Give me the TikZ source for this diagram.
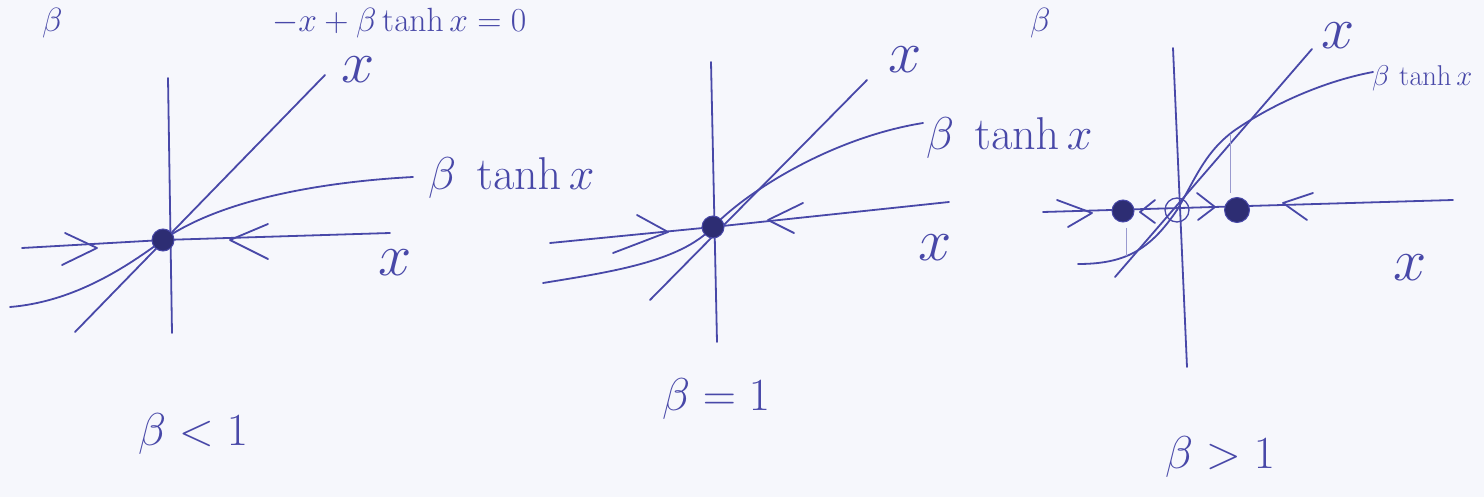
\documentclass[tikz,border=0pt]{standalone}
\usepackage{graphicx}
\usepackage{xcolor}
\definecolor{pen}{RGB}{72,72,168}
\definecolor{pendark}{RGB}{45,45,115}
\definecolor{paper}{RGB}{246,247,252}
\newcommand{\bigtxt}[1]{\scalebox{1.85}{#1}}
\newcommand{\headtxt}[1]{\scalebox{1.35}{#1}}
\newcommand{\xtxt}[1]{\scalebox{2.4}{#1}}
\newcommand{\smtxt}[1]{\scalebox{1.15}{#1}}
\begin{document}
\begin{tikzpicture}[x=1pt,y=-1pt,
  ink/.style={draw=pen,line width=1.8pt,line cap=round,line join=round},
  faint/.style={draw=pen!55,line width=0.8pt},
  lbl/.style={text=pen,inner sep=0pt,anchor=base west,font=\Huge},
  xf/.style={text=pen,inner sep=0pt,font=\Huge},
  stablept/.style={circle,fill=pendark,draw=pen,line width=1pt,minimum size=22pt,inner sep=0pt},
  unstablept/.style={circle,draw=pen,line width=1.3pt,minimum size=24pt,inner sep=0pt}]
\useasboundingbox (0,0) rectangle (1484,497);
\fill[paper] (0,0) rectangle (1484,497);

% ---------- heading at the top edge ----------
\node[lbl] (h0) at (42,32) {\headtxt{$\beta$}};
\node[lbl] (h1) at (272,32) {\headtxt{$-x+\beta\tanh x=0$}};
\node[lbl] (h2) at (1030,32) {\headtxt{$\beta$}};

% ---------- panel 1: beta < 1 ----------
\coordinate (v1t) at (168,78);
\coordinate (v1b) at (172,333);
\coordinate (h1l) at (22,248);
\coordinate (h1r) at (390,233);
\coordinate (l1a) at (75,332);
\coordinate (l1b) at (325,75);
\coordinate (t1a) at (10,307);
\coordinate (t1b) at (413,177);
\coordinate (F1) at (163,240);
\draw[ink] (v1t) -- (v1b);
\draw[ink] (h1l) -- (F1) -- (h1r);
\draw[ink] (l1a) -- (l1b);
\draw[ink] (t1a) .. controls (70,302) and (120,272) .. (F1) .. controls (220,200) and (320,182) .. (t1b);
\draw[ink] (65,233) -- (97,248) -- (62,265);
\draw[ink] (268,224) -- (230,240) -- (268,259);
\node[stablept] (S1) at (F1) {};
\node[xf] (x1a) at (358,70) {\xtxt{$x$}};
\node[xf] (x1b) at (395,263) {\xtxt{$x$}};
\node[lbl] (b1) at (428,190) {\bigtxt{$\beta\;\tanh x$}};
\node[lbl] (c1) at (138,445) {\bigtxt{$\beta<1$}};

% ---------- panel 2: beta = 1 ----------
\coordinate (v2t) at (711,62);
\coordinate (v2b) at (717,342);
\coordinate (h2l) at (550,243);
\coordinate (h2r) at (949,202);
\coordinate (l2a) at (650,300);
\coordinate (l2b) at (867,80);
\coordinate (t2a) at (543,283);
\coordinate (t2b) at (923,123);
\coordinate (F2) at (713,227);
\draw[ink] (v2t) -- (v2b);
\draw[ink] (h2l) -- (F2) -- (h2r);
\draw[ink] (l2a) -- (l2b);
\draw[ink] (t2a) .. controls (610,272) and (680,262) .. (F2) .. controls (745,193) and (830,138) .. (t2b);
\draw[ink] (637,215) -- (668,232) -- (613,253);
\draw[ink] (803,203) -- (768,220) -- (794,233);
\node[stablept] (S2) at (F2) {};
\node[xf] (x2a) at (905,60) {\xtxt{$x$}};
\node[xf] (x2b) at (935,248) {\xtxt{$x$}};
\node[lbl] (b2) at (926,150) {\bigtxt{$\beta\;\tanh x$}};
\node[lbl] (c2) at (662,410) {\bigtxt{$\beta=1$}};

% ---------- panel 3: beta > 1 ----------
\coordinate (v3t) at (1173,48);
\coordinate (v3b) at (1187,367);
\coordinate (h3l) at (1043,212);
\coordinate (h3r) at (1453,200);
\coordinate (l3a) at (1115,277);
\coordinate (l3b) at (1312,49);
\coordinate (t3a) at (1078,264);
\coordinate (t3b) at (1373,72);
\coordinate (F3) at (1177,210);
\coordinate (P3) at (1238,128);
\draw[ink] (v3t) -- (v3b);
\draw[ink] (h3l) -- (h3r);
\draw[ink] (l3a) -- (l3b);
\draw[ink] (t3a) .. controls (1125,264) and (1150,250) .. (F3) .. controls (1195,180) and (1205,150) .. (P3) .. controls (1280,100) and (1330,80) .. (t3b);
\draw[faint] (1230,134) -- (1230,193);
\draw[faint] (1126,228) -- (1126,256);
\draw[ink] (1057,200) -- (1092,213) -- (1068,227);
\draw[ink] (1155,200) -- (1140,212) -- (1155,223);
\draw[ink] (1197,193) -- (1215,207) -- (1198,220);
\draw[ink] (1313,193) -- (1283,203) -- (1307,220);
\node[stablept] (S3a) at (1123,211) {};
\node[stablept,minimum size=25pt] (S3b) at (1237,210) {};
\node[unstablept] (U3) at (F3) {};
\node[xf] (x3a) at (1338,36) {\xtxt{$x$}};
\node[xf] (x3b) at (1410,268) {\xtxt{$x$}};
\node[lbl] (b3) at (1372,86) {\smtxt{$\beta\,\tanh x$}};
\node[lbl] (c3) at (1165,468) {\bigtxt{$\beta>1$}};
\end{tikzpicture}
\end{document}
